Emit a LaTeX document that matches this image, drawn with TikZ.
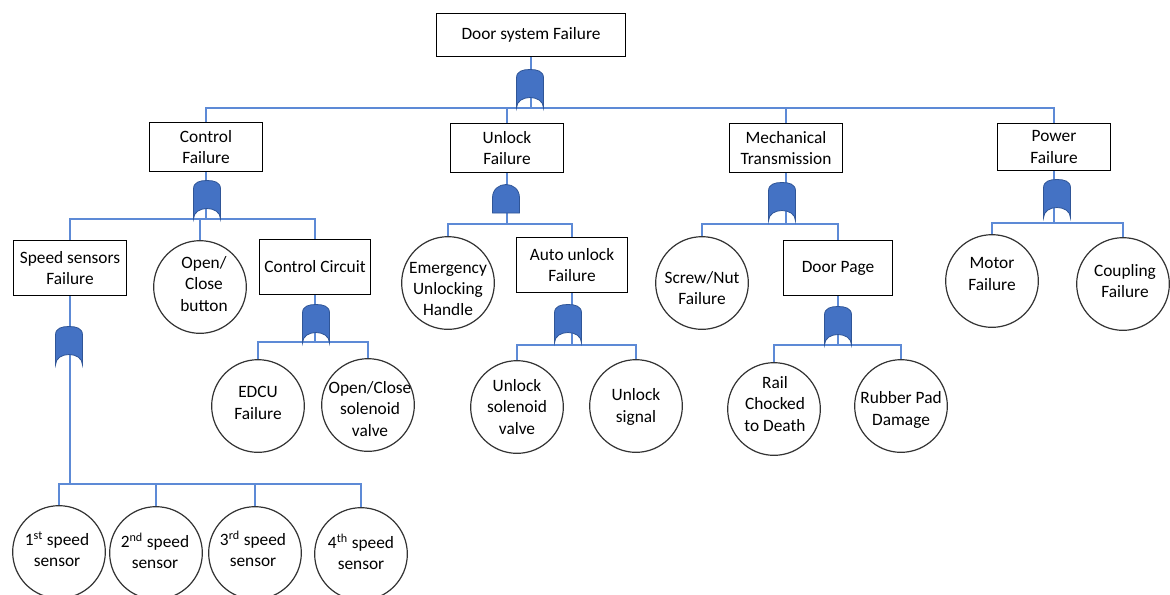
\documentclass[tikz,border=0pt]{standalone}
\usepackage{fontspec}
\setmainfont{Carlito}
\definecolor{wirec}{HTML}{5D8AD6}
\definecolor{gatec}{HTML}{4472C4}
\definecolor{gated}{HTML}{2F5597}
\begin{document}
\begin{tikzpicture}[x=0.75pt,y=-0.75pt,
  box/.style={draw=black, line width=0.9pt, fill=white, align=center, inner sep=0pt,
    font=\fontsize{13}{16}\selectfont},
  ev/.style={circle, draw=black!80, line width=0.9pt, fill=white, inner sep=0pt, minimum size=69.5pt},
  txt/.style={align=center, inner sep=0pt, font=\fontsize{13}{16}\selectfont},
  wire/.style={draw=wirec, line width=1.1pt},
  gatestyle/.style={fill=gatec, draw=gated, line width=0.6pt},
  orgate/.pic={\filldraw[gatestyle] (-13.5,0) -- (-13.5,-30) .. controls (-13.5,-37) and (-7,-38.5) .. (0,-38.5) .. controls (7,-38.5) and (13.5,-37) .. (13.5,-30) -- (13.5,0) .. controls (13.5,-14) and (-13.5,-14) .. cycle;},
  andgate/.pic={\filldraw[gatestyle] (-13.5,0) -- (-13.5,-15) .. controls (-13.5,-33) and (13.5,-33) .. (13.5,-15) -- (13.5,0) -- cycle;}
]
\path[fill=white] (0,0) rectangle (1170,594);
\useasboundingbox (0,0) rectangle (1170,594);

% ---- boxes ----
\node[box, minimum width=141.75pt, minimum height=32.25pt] (top) at (531,35) {Door system Failure};
\node[box, minimum width=84.75pt, minimum height=36.75pt] (cf) at (206,147) {Control\\Failure};
\node[box, minimum width=84.75pt, minimum height=36.75pt] (uf) at (507,148) {Unlock\\Failure};
\node[box, minimum width=84.75pt, minimum height=36.75pt] (mt) at (786,148) {Mechanical\\Transmission};
\node[box, minimum width=84.75pt, minimum height=35.25pt] (pf) at (1054,147) {Power\\Failure};
\node[box, minimum width=84.75pt, minimum height=41.25pt] (ss) at (70,268) {Speed sensors\\Failure};
\node[box, minimum width=83.25pt, minimum height=41.25pt] (cc) at (315,267) {Control Circuit};
\node[box, minimum width=83.25pt, minimum height=41.25pt] (au) at (572,265) {Auto unlock\\Failure};
\node[box, minimum width=81.75pt, minimum height=41.25pt] (dp) at (838,268) {Door Page};

% ---- circles ----
\node[ev] (ocb) at (200,287) {};
\node[ev] (emh) at (448,283) {};
\node[ev] (snf) at (702,283) {};
\node[ev] (mot) at (992,281) {};
\node[ev] (cpl) at (1123,284) {};
\node[ev] (edcu) at (258,406) {};
\node[ev] (osv) at (368,405) {};
\node[ev] (usv) at (517,407) {};
\node[ev] (usg) at (636,406) {};
\node[ev] (rail) at (774,409) {};
\node[ev] (rpd) at (901,406) {};
\node[ev] (s1) at (59,552) {};
\node[ev] (s2) at (156,553) {};
\node[ev] (s3) at (255,553) {};
\node[ev] (s4) at (361,554) {};

% ---- bar coordinates ----
\coordinate (b0) at (530,108);
\coordinate (b1) at (207,219);
\coordinate (b2) at (506,224);
\coordinate (b3) at (782,224);
\coordinate (b4) at (1057,223);
\coordinate (b5) at (69,484);
\coordinate (b6) at (316,342);
\coordinate (b7) at (568,345);
\coordinate (b8) at (838,345);

% ---- connectors ----
\draw[wire] (top.south) -- (top.south |- b0);
\foreach \c in {cf,uf,mt,pf} \draw[wire] (\c.north) |- (b0);
\draw[wire] (cf.south) -- (cf.south |- b1);
\foreach \c in {ss,ocb,cc} \draw[wire] (\c.north) |- (b1);
\draw[wire] (uf.south) -- (uf.south |- b2);
\foreach \c in {emh,au} \draw[wire] (\c.north) |- (b2);
\draw[wire] (mt.south) -- (mt.south |- b3);
\foreach \c in {snf,dp} \draw[wire] (\c.north) |- (b3);
\draw[wire] (pf.south) -- (pf.south |- b4);
\foreach \c in {mot,cpl} \draw[wire] (\c.north) |- (b4);
\draw[wire] (ss.south) -- (ss.south |- b5);
\foreach \c in {s1,s2,s3,s4} \draw[wire] (\c.north) |- (b5);
\draw[wire] (cc.south) -- (cc.south |- b6);
\foreach \c in {edcu,osv} \draw[wire] (\c.north) |- (b6);
\draw[wire] (au.south) -- (au.south |- b7);
\foreach \c in {usv,usg} \draw[wire] (\c.north) |- (b7);
\draw[wire] (dp.south) -- (dp.south |- b8);
\foreach \c in {rail,rpd} \draw[wire] (\c.north) |- (b8);

% ---- gates ----
\pic at (530,108) {orgate};
\pic at (207,219) {orgate};
\pic at (506,213) {andgate};
\pic at (782,221) {orgate};
\pic at (1057,218) {orgate};
\pic at (69,365) {orgate};
\pic at (316,343) {orgate};
\pic at (568,343) {orgate};
\pic at (838,345) {orgate};

% ---- circle texts ----
\node[txt] (tocb) at (204,284) {Open/\\Close\\button};
\node[txt] (temh) at (448,289) {Emergency\\Unlocking\\Handle};
\node[txt] (tsnf) at (702,288) {Screw/Nut\\Failure};
\node[txt] (tmot) at (992,274) {Motor\\Failure};
\node[txt] (tcpl) at (1125,281) {Coupling\\Failure};
\node[txt] (tedcu) at (258,403) {EDCU\\Failure};
\node[txt] (tosv) at (370,409) {Open/Close\\solenoid\\valve};
\node[txt] (tusv) at (517,407) {Unlock\\solenoid\\valve};
\node[txt] (tusg) at (636,407) {Unlock\\signal};
\node[txt] (trail) at (775,404) {Rail\\Chocked\\to Death};
\node[txt] (trpd) at (901,410) {Rubber Pad\\Damage};
\node[txt] (ts1) at (57,549) {1\textsuperscript{st} speed\\sensor};
\node[txt] (ts2) at (155,551) {2\textsuperscript{nd} speed\\sensor};
\node[txt] (ts3) at (253,549) {3\textsuperscript{rd} speed\\sensor};
\node[txt] (ts4) at (361,552) {4\textsuperscript{th} speed\\sensor};
\end{tikzpicture}
\end{document}
